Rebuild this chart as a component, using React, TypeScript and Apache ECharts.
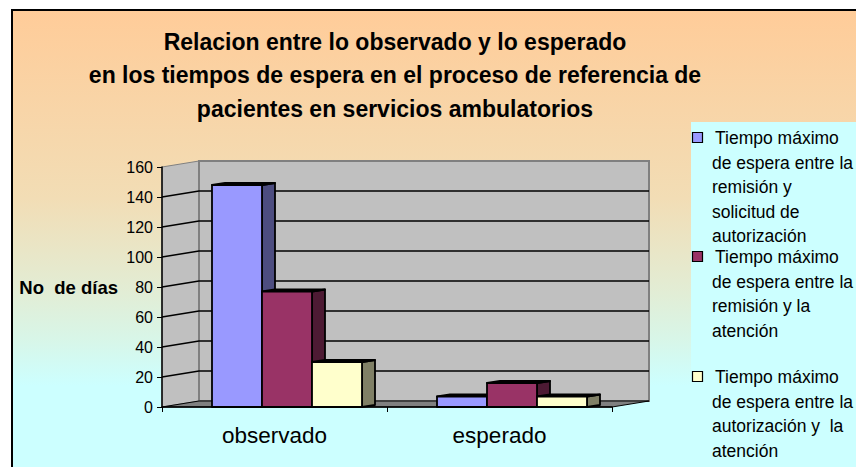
import React, { useEffect, useRef } from "react";
import * as echarts from "echarts";

const titleLines = [
  "Relacion entre lo observado y lo esperado",
  "en los tiempos de espera en el proceso de referencia de",
  "pacientes en servicios ambulatorios",
];
const yAxisName = "No  de días";
const categories = ["observado", "esperado"];
const seriesNames = [
  "Tiempo máximo de espera entre la remisión y solicitud de autorización",
  "Tiempo máximo de espera entre la remisión y la atención",
  "Tiempo máximo de espera entre la autorización y  la atención",
];
const legendLines = [
  ["Tiempo máximo", "de espera entre la", "remisión y", "solicitud de", "autorización"],
  ["Tiempo máximo", "de espera entre la", "remisión y la", "atención"],
  ["Tiempo máximo", "de espera entre la", "autorización y  la", "atención"],
];
const remisionSolicitud = [148, 7];
const remisionAtencion = [77, 16];
const autorizacionAtencion = [30, 7];
const yMin = 0;
const yMax = 160;
const yInterval = 20;

const seriesValues = [remisionSolicitud, remisionAtencion, autorizacionAtencion];
const frontColors = ["#9999FF", "#993366", "#FFFFCC"];
const sideColors = ["#4D4D80", "#4D1A33", "#808066"];

const FONT = "Arial, 'Liberation Sans', sans-serif";
const DX = 37;
const DY = -6;

function wallsRender(params: any, api: any) {
  const cs = params.coordSys;
  const x0 = cs.x;
  const x1 = cs.x + cs.width;
  const yb = api.coord([0, yMin])[1];
  const yt = api.coord([0, yMax])[1];
  const children: any[] = [];
  children.push({
    type: "polygon",
    shape: { points: [[x0, yt], [x0 + DX, yt + DY], [x0 + DX, yb + DY], [x0, yb]] },
    style: { fill: "#C0C0C0", stroke: "#808080", lineWidth: 1 },
  });
  children.push({
    type: "rect",
    shape: { x: x0 + DX, y: yt + DY, width: cs.width, height: yb - yt },
    style: { fill: "#C0C0C0", stroke: "#808080", lineWidth: 2 },
  });
  children.push({
    type: "polygon",
    shape: { points: [[x0, yb], [x1, yb], [x1 + DX, yb + DY], [x0 + DX, yb + DY]] },
    style: { fill: "#808080", stroke: "#000", lineWidth: 1 },
  });
  for (let v = yMin + yInterval; v < yMax; v += yInterval) {
    const y = api.coord([0, v])[1];
    children.push({
      type: "polyline",
      shape: { points: [[x0, y], [x0 + DX, y + DY], [x1 + DX, y + DY]] },
      style: { stroke: "#000", lineWidth: 1.5, fill: null },
    });
  }
  return { type: "group", children };
}

function makeBarRender(j: number) {
  return (params: any, api: any) => {
    const idx = api.value(0);
    const val = api.value(1);
    const top = api.coord([idx, val]);
    const base = api.coord([idx, 0]);
    const band = api.size([1, 0])[0];
    const w = (band * 50) / 225;
    const x0 = top[0] - (band * 62.5) / 225 + j * w;
    const x1 = x0 + w;
    const dx = (band * 13) / 225;
    const dy = -2;
    const yt = top[1];
    const yb = base[1];
    const stroke = { stroke: "#000", lineWidth: 1.8, lineJoin: "round" };
    return {
      type: "group",
      children: [
        {
          type: "polygon",
          shape: { points: [[x1, yt], [x1 + dx, yt + dy], [x1 + dx, yb + dy], [x1, yb]] },
          style: { fill: sideColors[j], ...stroke },
        },
        {
          type: "polygon",
          shape: { points: [[x0, yt], [x0 + dx, yt + dy], [x1 + dx, yt + dy], [x1, yt]] },
          style: { fill: frontColors[j], ...stroke },
        },
        {
          type: "rect",
          shape: { x: x0, y: yt, width: w, height: yb - yt },
          style: { fill: frontColors[j], ...stroke },
        },
      ],
    };
  };
}

export default function App() {
  const ref = useRef<HTMLDivElement>(null);
  useEffect(() => {
    document.body.style.margin = "0";
    const chart = echarts.init(ref.current!, null, { renderer: "svg" });

    const legendGraphics: any[] = [];
    const itemTops = [138, 257, 377];
    legendLines.forEach((lines, i) => {
      legendGraphics.push({
        type: "rect",
        z: 5,
        shape: { x: 692.5, y: itemTops[i] - 5.5, width: 10, height: 10 },
        style: { fill: frontColors[i], stroke: "#000", lineWidth: 1.2 },
      });
      lines.forEach((ln, k) => {
        legendGraphics.push({
          type: "text",
          z: 5,
          x: k === 0 ? 715 : 712,
          y: itemTops[i] + k * 24.5,
          style: {
            text: ln,
            font: `17.5px ${FONT}`,
            fill: "#000",
            verticalAlign: "middle",
          },
        });
      });
    });

    chart.setOption({
      animation: false,
      backgroundColor: "#fff",
      graphic: [
        {
          type: "rect",
          z: -100,
          shape: { x: 12, y: 10, width: 860, height: 470 },
          style: {
            fill: new echarts.graphic.LinearGradient(0, 0, 0, 1, [
              { offset: 0, color: "#FFCC99" },
              { offset: 0.4, color: "#F2DDB5" },
              { offset: 0.6, color: "#E2EDD5" },
              { offset: 0.7, color: "#D8F6E8" },
              { offset: 0.8, color: "#CCFFFF" },
              { offset: 1, color: "#CCFFFF" },
            ]),
            stroke: "#000",
            lineWidth: 2,
          },
        },
        {
          type: "rect",
          z: -50,
          shape: { x: 691, y: 122, width: 200, height: 360 },
          style: { fill: "#CCFFFF" },
        },
        {
          type: "text",
          z: 5,
          x: 395,
          y: 25,
          style: {
            text: titleLines.join("\n"),
            font: `bold 23px ${FONT}`,
            fill: "#000",
            align: "center",
            lineHeight: 33.5,
          },
        },
        ...legendGraphics,
      ],
      grid: { left: 162, top: 167, width: 450, height: 240, containLabel: false },
      xAxis: {
        type: "category",
        data: categories,
        z: 10,
        axisLine: { show: true, lineStyle: { color: "#000", width: 1.5 } },
        axisTick: { show: true, length: 5, interval: 0, lineStyle: { color: "#000" } },
        axisLabel: { fontFamily: FONT, fontSize: 22.5, color: "#000", margin: 17 },
      },
      yAxis: {
        type: "value",
        min: yMin,
        max: yMax,
        interval: yInterval,
        z: 10,
        name: yAxisName,
        nameLocation: "middle",
        nameRotate: 0,
        nameGap: 44,
        nameTextStyle: { fontFamily: FONT, fontSize: 18.5, fontWeight: "bold", color: "#000", align: "right", verticalAlign: "middle" },
        axisLine: { show: true, lineStyle: { color: "#000", width: 1.5 } },
        axisTick: { show: true, length: 5, lineStyle: { color: "#000" } },
        axisLabel: { fontFamily: FONT, fontSize: 16, color: "#000", margin: 9 },
        splitLine: { show: false },
      },
      series: [
        {
          type: "custom",
          name: "walls",
          z: 1,
          silent: true,
          renderItem: wallsRender,
          data: [[0, 0]],
          encode: { x: 0, y: 1 },
        },
        ...seriesValues.map((vals, j) => ({
          type: "custom",
          name: seriesNames[j],
          z: 3,
          renderItem: makeBarRender(j),
          data: vals.map((v, i) => [i, v]),
          encode: { x: 0, y: 1 },
        })),
      ],
    });
    return () => chart.dispose();
  }, []);
  return <div ref={ref} style={{ width: 856, height: 467 }} />;
}
